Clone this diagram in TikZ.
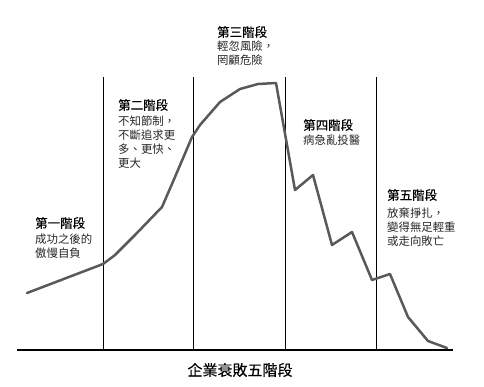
\documentclass[tikz,border=0pt]{standalone}
\usepackage{fontspec}
\newfontfamily\cjk{Noto Sans CJK TC}
\newfontfamily\cjkb{Noto Sans CJK TC}[FakeBold=0.3]
\begin{document}
\begin{tikzpicture}[x=1pt,y=-1pt,
  ttl/.style={anchor=west,inner sep=0pt,font=\cjkb\fontsize{12.5}{14}\selectfont,text=black},
  bdy/.style={anchor=north west,inner sep=0pt,align=left,font=\cjk\fontsize{11.4}{14}\selectfont,text=black!85},
  stageline/.style={line width=1pt,black},
  curve/.style={line width=2.5pt,color=black!65,line join=round,line cap=round}]
\useasboundingbox (0,0) rectangle (484,386);
% axis
\coordinate (axL) at (17,350);
\coordinate (axR) at (453,350);
\draw[line width=1.2pt] (axL) -- (axR);
\foreach \x in {103,193,285,376}{\draw[stageline] (\x,77) -- (\x,350);}
% curve
\draw[curve] (27,293) -- (103,264) -- (115,255) -- (135,235) -- (162,207) -- (175,177) -- (192,137) -- (200,125) -- (220,102) -- (240,89) -- (258,84) -- (276,83) -- (295,190) -- (313,175) -- (332,245) -- (352,232) -- (372,280) -- (390,274) -- (408,317) -- (428,341) -- (447,348);
% labels
\node[ttl] (t1) at (35,223) {第一階段};
\node[bdy] (b1) at (35,234) {成功之後的\\傲慢自負};
\node[ttl] (t2) at (118,105) {第二階段};
\node[bdy] (b2) at (118,116) {不知節制，\\不斷追求更\\多、更快、\\更大};
\node[ttl] (t3) at (217,32) {第三階段};
\node[bdy] (b3) at (217,40.5) {輕忽風險，\\罔顧危險};
\node[ttl] (t4) at (303,125) {第四階段};
\node[bdy] (b4) at (303,134.5) {病急亂投醫};
\node[ttl] (t5) at (387,195) {第五階段};
\node[bdy] (b5) at (387,207.5) {放棄掙扎，\\變得無足輕重\\或走向敗亡};
\node[inner sep=0pt,font=\cjkb\fontsize{15}{17}\selectfont] (title) at (240,370) {企業衰敗五階段};
\end{tikzpicture}
\end{document}
